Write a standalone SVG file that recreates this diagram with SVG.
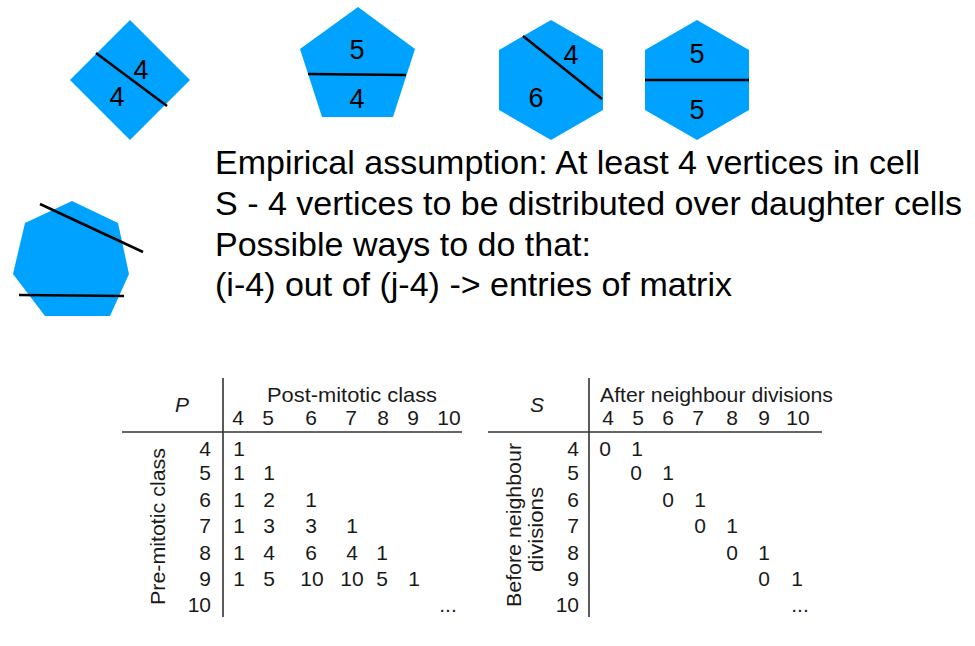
<svg xmlns="http://www.w3.org/2000/svg" width="975" height="646" viewBox="0 0 975 646">
<style>
.cell{fill:#00A2FF;stroke:none}
.cut{stroke:#000;stroke-width:2.5;fill:none}
.n{font-family:"Liberation Sans",Arial,sans-serif;font-size:27px;fill:#000;text-anchor:middle}
.big{font-family:"Liberation Sans",Arial,sans-serif;font-size:33px;fill:#000}
.t{font-family:"Liberation Sans",Arial,sans-serif;font-size:21px;fill:#1a1a1a;text-anchor:middle}
.r{text-anchor:end}
.s{text-anchor:start}
.it{font-style:italic}
.rule{stroke:#333;stroke-width:1.6;fill:none}
</style>
<rect width="975" height="646" fill="#fff"/>
<g id="diamond">
<polygon class="cell" points="130,20 190,80 130,140 70,80"/>
<line class="cut" x1="96" y1="53" x2="167" y2="106"/>
<text class="n" x="141" y="79">4</text>
<text class="n" x="117" y="106">4</text>
</g>
<g id="pentagon">
<polygon class="cell" points="358,7 415,49 393,117 322,117 300,49"/>
<line class="cut" x1="308" y1="74" x2="406" y2="75"/>
<text class="n" x="357" y="59">5</text>
<text class="n" x="357" y="108">4</text>
</g>
<g id="hexagon1">
<polygon class="cell" points="551,20 603,50 603,110 551,140 499,110 499,50"/>
<line class="cut" x1="523" y1="36" x2="602" y2="99"/>
<text class="n" x="571" y="64">4</text>
<text class="n" x="536" y="107">6</text>
</g>
<g id="hexagon2">
<polygon class="cell" points="697,20 749,50 749,110 697,140 645,110 645,50"/>
<line class="cut" x1="645" y1="80" x2="749" y2="80"/>
<text class="n" x="697" y="63">5</text>
<text class="n" x="697" y="119">5</text>
</g>
<g id="heptagon">
<polygon class="cell" points="72,201 118,223 129,274 110,316 45,316 13,274 25,223"/>
<line class="cut" x1="40" y1="204" x2="143" y2="252"/>
<line class="cut" x1="19" y1="295" x2="124" y2="296"/>
</g>
<g id="explanation">
<text class="big" x="215" y="174" textLength="705" lengthAdjust="spacingAndGlyphs">Empirical assumption: At least 4 vertices in cell</text>
<text class="big" x="215" y="215" textLength="747" lengthAdjust="spacingAndGlyphs">S - 4 vertices to be distributed over daughter cells</text>
<text class="big" x="215" y="256" textLength="376" lengthAdjust="spacingAndGlyphs">Possible ways to do that:</text>
<text class="big" x="215" y="296" textLength="517" lengthAdjust="spacingAndGlyphs">(i-4) out of (j-4) -&gt; entries of matrix</text>
</g>
<g id="table-P">
<line class="rule" x1="223" y1="378" x2="223" y2="617"/>
<line class="rule" x1="122" y1="432" x2="462" y2="432"/>
<text class="t it" x="182" y="412">P</text>
<text class="t s" x="267" y="402" textLength="170" lengthAdjust="spacingAndGlyphs">Post-mitotic class</text>
<text class="t" x="238" y="425">4</text><text class="t" x="268" y="425">5</text><text class="t" x="311" y="425">6</text><text class="t" x="351" y="425">7</text><text class="t" x="383" y="425">8</text><text class="t" x="413" y="425">9</text><text class="t" x="449" y="425">10</text>
<text class="t" transform="translate(165,526.5) rotate(-90)" x="0" y="0" textLength="157" lengthAdjust="spacingAndGlyphs">Pre-mitotic class</text>
<text class="t r" x="211" y="456">4</text><text class="t r" x="211" y="480">5</text><text class="t r" x="211" y="507">6</text><text class="t r" x="211" y="533">7</text><text class="t r" x="211" y="560">8</text><text class="t r" x="211" y="586">9</text><text class="t r" x="211" y="612">10</text>
<text class="t" x="239" y="456">1</text>
<text class="t" x="239" y="480">1</text><text class="t" x="269" y="480">1</text>
<text class="t" x="239" y="507">1</text><text class="t" x="269" y="507">2</text><text class="t" x="311" y="507">1</text>
<text class="t" x="239" y="533">1</text><text class="t" x="269" y="533">3</text><text class="t" x="311" y="533">3</text><text class="t" x="352" y="533">1</text>
<text class="t" x="239" y="560">1</text><text class="t" x="269" y="560">4</text><text class="t" x="311" y="560">6</text><text class="t" x="352" y="560">4</text><text class="t" x="382" y="560">1</text>
<text class="t" x="239" y="586">1</text><text class="t" x="269" y="586">5</text><text class="t" x="312" y="586">10</text><text class="t" x="352" y="586">10</text><text class="t" x="382" y="586">5</text><text class="t" x="414" y="586">1</text>
<text class="t" x="448" y="612">...</text>
</g>
<g id="table-S">
<line class="rule" x1="589" y1="378" x2="589" y2="617"/>
<line class="rule" x1="488" y1="432" x2="822" y2="432"/>
<text class="t it" x="537" y="412">S</text>
<text class="t s" x="600" y="402" textLength="233" lengthAdjust="spacingAndGlyphs">After neighbour divisions</text>
<text class="t" x="608" y="425">4</text><text class="t" x="638" y="425">5</text><text class="t" x="668" y="425">6</text><text class="t" x="698" y="425">7</text><text class="t" x="732" y="425">8</text><text class="t" x="764" y="425">9</text><text class="t" x="798" y="425">10</text>
<text class="t" transform="translate(521,525) rotate(-90)" x="0" y="0" textLength="164" lengthAdjust="spacingAndGlyphs">Before neighbour</text>
<text class="t" transform="translate(543,529.5) rotate(-90)" x="0" y="0" textLength="85" lengthAdjust="spacingAndGlyphs">divisions</text>
<text class="t r" x="579" y="456">4</text><text class="t r" x="579" y="480">5</text><text class="t r" x="579" y="507">6</text><text class="t r" x="579" y="533">7</text><text class="t r" x="579" y="560">8</text><text class="t r" x="579" y="586">9</text><text class="t r" x="579" y="612">10</text>
<text class="t" x="605" y="456">0</text><text class="t" x="637" y="456">1</text>
<text class="t" x="636" y="480">0</text><text class="t" x="668" y="480">1</text>
<text class="t" x="668" y="507">0</text><text class="t" x="700" y="507">1</text>
<text class="t" x="700" y="533">0</text><text class="t" x="732" y="533">1</text>
<text class="t" x="732" y="560">0</text><text class="t" x="764" y="560">1</text>
<text class="t" x="764" y="586">0</text><text class="t" x="797" y="586">1</text>
<text class="t" x="800" y="612">...</text>
</g>
</svg>
